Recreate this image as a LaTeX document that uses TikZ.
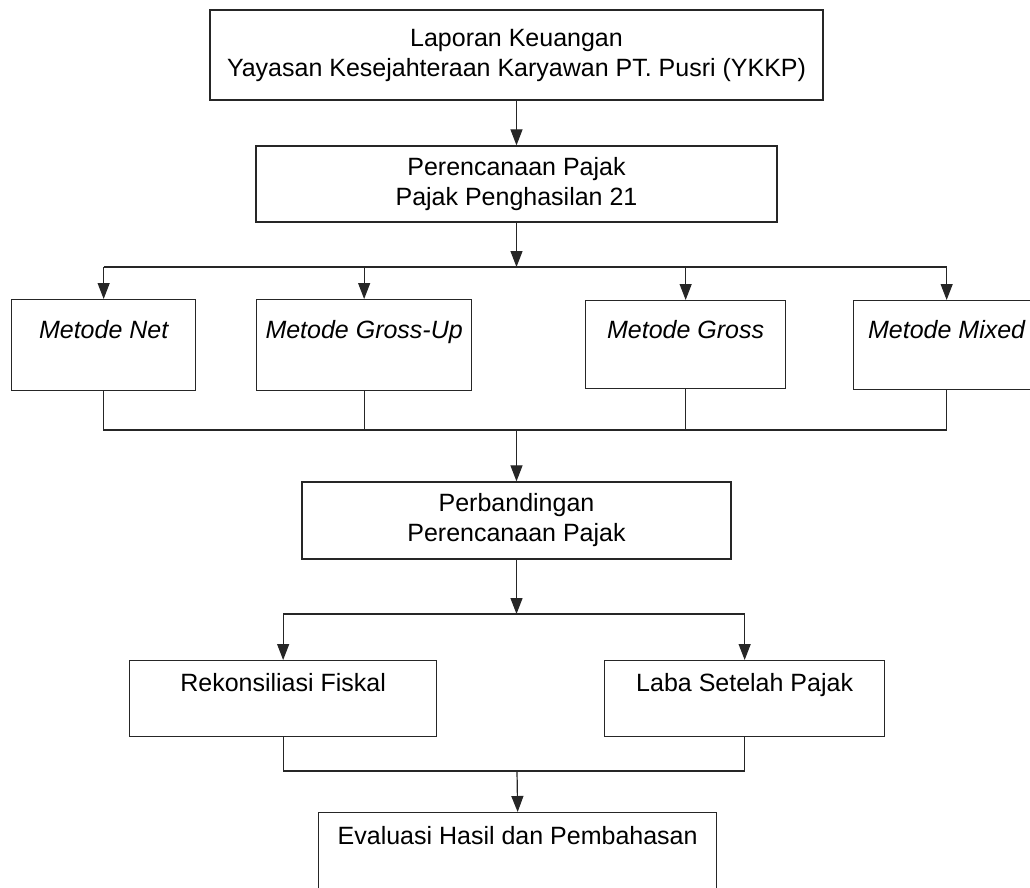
\documentclass[tikz,border=0pt]{standalone}
\usepackage{fontspec}
\setmainfont{Liberation Sans}
\usetikzlibrary{arrows.meta}
\begin{document}
\begin{tikzpicture}[x=1pt,y=-1pt,
  box/.style={draw=black!85, line width=1.3pt, inner sep=0pt, align=center,
    font=\fontsize{25}{30}\selectfont},
  link/.style={draw=black!85, line width=1.2pt},
  arr/.style={link, -{Triangle[length=16pt,width=12pt]}}]
\clip (0,0) rectangle (1030,887);
% top
\node[box, minimum width=613pt, minimum height=90pt] (lap) at (516.5,55)
  {Laporan Keuangan\\Yayasan Kesejahteraan Karyawan PT. Pusri (YKKP)};
\node[box, minimum width=521pt, minimum height=76pt] (plan) at (516.5,184)
  {Perencanaan Pajak\\Pajak Penghasilan 21};
% methods
\node[box, anchor=north west, minimum width=184pt, text height=39pt, text depth=52pt] (net) at (11,299) {\itshape Metode Net};
\node[box, anchor=north west, minimum width=215pt, text height=39pt, text depth=52pt] (gup) at (256,299) {\itshape Metode Gross-Up};
\node[box, anchor=north west, minimum width=200pt, text height=38pt, text depth=50pt] (gross) at (585,300) {\itshape Metode Gross};
\node[box, anchor=north west, minimum width=186pt, text height=38pt, text depth=51pt] (mixed) at (853,300) {\itshape Metode Mixed};
% comparison
\node[box, minimum width=429pt, minimum height=77pt] (perb) at (516.5,520.5)
  {Perbandingan\\Perencanaan Pajak};
\node[box, anchor=north west, minimum width=307pt, text height=31pt, text depth=45pt] (rek) at (129,660) {Rekonsiliasi Fiskal};
\node[box, anchor=north west, minimum width=280pt, text height=31pt, text depth=45pt] (laba) at (604,660) {Laba Setelah Pajak};
\node[box, anchor=north west, minimum width=398pt, text height=32pt, text depth=44pt] (eval) at (318,812) {Evaluasi Hasil dan Pembahasan};
% hub coordinates
\coordinate (h1) at (516.5,267);
\coordinate (h2) at (516.5,430);
\coordinate (h3) at (516.5,614);
\coordinate (h4) at (517,771);
% connectors
\draw[arr] (lap.south) -- (plan.north);
\draw[arr] (plan.south) -- (h1);
\draw[link] (net.north |- h1) -- (mixed.north |- h1);
\draw[arr] (net.north |- h1) -- (net.north);
\draw[arr] (gup.north |- h1) -- (gup.north);
\draw[arr] (gross.north |- h1) -- (gross.north);
\draw[arr] (mixed.north |- h1) -- (mixed.north);
\draw[link] (net.south) -- (net.south |- h2) -- (mixed.south |- h2) -- (mixed.south);
\draw[link] (gup.south) -- (gup.south |- h2);
\draw[link] (gross.south) -- (gross.south |- h2);
\draw[arr] (h2) -- (perb.north);
\draw[arr] (perb.south) -- (h3);
\draw[link] (rek.north |- h3) -- (laba.north |- h3);
\draw[arr] (rek.north |- h3) -- (rek.north);
\draw[arr] (laba.north |- h3) -- (laba.north);
\draw[link] (rek.south) -- (rek.south |- h4) -- (laba.south |- h4) -- (laba.south);
\draw[arr] (h4) -- (eval.north);
\end{tikzpicture}
\end{document}
